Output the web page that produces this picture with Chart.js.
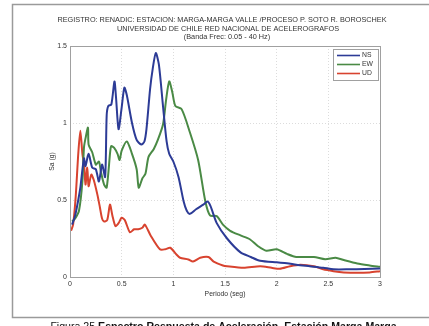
<!DOCTYPE html>
<html>
<head>
<meta charset="utf-8">
<script src="https://cdn.jsdelivr.net/npm/chart.js@4/dist/chart.umd.min.js"></script>
<style>
  html, body { margin: 0; padding: 0; background: #fff; }
  canvas { display: block; }
</style>
</head>
<body>
<canvas id="c" width="429" height="326"></canvas>
<script>
// Response spectra (Sa in g versus period in s) for the three components
const nsPeriod = [0.02,0.05,0.08,0.10,0.135,0.15,0.18,0.215,0.25,0.28,0.31,0.34,0.355,0.37,0.40,0.43,0.445,0.47,0.50,0.526,0.55,0.60,0.645,0.69,0.72,0.74,0.775,0.80,0.83,0.86,0.90,0.935,0.96,1.0,1.05,1.10,1.13,1.16,1.22,1.29,1.33,1.36,1.42,1.52,1.65,1.75,1.84,2.0,2.1,2.19,2.32,2.45,2.55,2.7,2.85,3.0];
const nsSa     = [0.34,0.40,0.50,0.58,0.77,0.72,0.80,0.71,0.70,0.62,0.73,0.65,1.05,1.11,1.12,1.27,1.17,0.96,1.10,1.23,1.18,1.00,0.89,0.86,0.88,0.96,1.22,1.35,1.455,1.38,1.11,0.88,0.80,0.75,0.65,0.49,0.43,0.41,0.44,0.47,0.49,0.46,0.35,0.25,0.16,0.13,0.105,0.095,0.09,0.08,0.07,0.06,0.05,0.05,0.052,0.055];

const ewPeriod = [0.02,0.05,0.087,0.12,0.135,0.15,0.174,0.18,0.215,0.25,0.28,0.30,0.33,0.355,0.39,0.40,0.426,0.46,0.48,0.50,0.55,0.60,0.645,0.665,0.70,0.73,0.76,0.81,0.85,0.90,0.93,0.96,0.99,1.02,1.08,1.16,1.24,1.31,1.355,1.42,1.48,1.55,1.65,1.74,1.82,1.90,2.0,2.1,2.19,2.36,2.47,2.57,2.65,2.78,2.9,3.0];
const ewSa     = [0.36,0.38,0.43,0.62,0.84,0.90,0.97,0.86,0.81,0.73,0.75,0.68,0.60,0.58,0.82,0.85,0.84,0.80,0.76,0.82,0.88,0.80,0.70,0.58,0.64,0.67,0.78,0.83,0.89,0.99,1.15,1.27,1.20,1.11,1.09,0.94,0.76,0.49,0.40,0.395,0.34,0.30,0.27,0.245,0.20,0.17,0.18,0.15,0.13,0.13,0.115,0.125,0.11,0.088,0.075,0.066];

const udPeriod = [0.01,0.03,0.055,0.08,0.10,0.12,0.136,0.15,0.167,0.18,0.206,0.23,0.265,0.29,0.31,0.33,0.36,0.387,0.41,0.44,0.47,0.50,0.53,0.58,0.62,0.66,0.70,0.725,0.78,0.87,0.92,0.97,1.03,1.065,1.145,1.19,1.26,1.34,1.39,1.48,1.52,1.68,1.84,1.95,2.03,2.13,2.23,2.36,2.45,2.55,2.65,2.78,2.9,3.0];
const udSa     = [0.30,0.34,0.52,0.80,0.95,0.80,0.73,0.60,0.71,0.59,0.665,0.63,0.535,0.45,0.38,0.36,0.37,0.47,0.40,0.33,0.35,0.385,0.37,0.29,0.31,0.31,0.32,0.34,0.27,0.18,0.18,0.19,0.146,0.125,0.114,0.10,0.125,0.13,0.10,0.075,0.07,0.06,0.07,0.06,0.053,0.07,0.08,0.07,0.05,0.038,0.03,0.027,0.03,0.038];

const seriesNames = ['NS', 'EW', 'UD'];
const xTicks = [0, 0.5, 1, 1.5, 2, 2.5, 3];
const yTicks = [0, 0.5, 1, 1.5];

const titleLines = [
  'REGISTRO: RENADIC: ESTACION: MARGA-MARGA VALLE /PROCESO P. SOTO R. BOROSCHEK',
  'UNIVERSIDAD DE CHILE RED NACIONAL DE ACELEROGRAFOS',
  '(Banda Frec: 0.05 - 40 Hz)'
];
const captionPlain = 'Figura 25 ';
const captionBold = 'Espectro Respuesta de Aceleración, Estación Marga Marga';

const FONT = '"Liberation Sans", Arial, sans-serif';
const colors = ['#2c3b96', '#4a8a45', '#d8432f'];

function pairs(xs, ys) { return xs.map((x, i) => ({ x: x, y: ys[i] })); }

const figurePlugin = {
  id: 'figure',
  beforeDraw(chart) {
    const ctx = chart.ctx;
    ctx.save();
    ctx.fillStyle = '#fff';
    ctx.fillRect(0, 0, chart.width, chart.height);
    ctx.restore();
  },
  afterDraw(chart) {
    const ctx = chart.ctx;
    const a = chart.chartArea;
    ctx.save();
    // outer figure frame
    ctx.strokeStyle = '#9a9a9a';
    ctx.lineWidth = 1.5;
    ctx.beginPath();
    ctx.moveTo(429, 4.5); ctx.lineTo(12.5, 4.5); ctx.lineTo(12.5, 317.5); ctx.lineTo(429, 317.5);
    ctx.stroke();

    // plot box
    ctx.strokeStyle = '#a0a0a0';
    ctx.lineWidth = 1;
    ctx.strokeRect(Math.round(a.left) + 0.5, Math.round(a.top) + 0.5,
                   Math.round(a.right - a.left), Math.round(a.bottom - a.top));

    // header lines
    ctx.fillStyle = '#333';
    ctx.textAlign = 'center';
    ctx.textBaseline = 'middle';
    ctx.font = '7.3px ' + FONT;
    ctx.fillText(titleLines[0], 222, 20);
    ctx.fillText(titleLines[1], 228, 28.5);
    ctx.fillText(titleLines[2], 227, 37);

    // legend
    const lx = 333, ly = 49, lw = 45, lh = 31;
    ctx.fillStyle = '#fff';
    ctx.fillRect(lx, ly, lw, lh);
    ctx.strokeStyle = '#a0a0a0';
    ctx.strokeRect(lx + 0.5, ly + 0.5, lw, lh);
    ctx.font = '6.8px ' + FONT;
    ctx.textAlign = 'left';
    chart.data.datasets.forEach((ds, i) => {
      const yy = ly + 6.5 + i * 9;
      ctx.strokeStyle = ds.borderColor;
      ctx.lineWidth = 1.6;
      ctx.beginPath(); ctx.moveTo(lx + 4, yy); ctx.lineTo(lx + 27, yy); ctx.stroke();
      ctx.fillStyle = '#333';
      ctx.fillText(ds.label, lx + 29, yy);
    });

    // caption
    ctx.fillStyle = '#111';
    ctx.textBaseline = 'alphabetic';
    ctx.font = '10.6px ' + FONT;
    const w1 = ctx.measureText(captionPlain).width;
    ctx.font = 'bold 10.6px ' + FONT;
    const w2 = ctx.measureText(captionBold).width;
    const x0 = 223.5 - (w1 + w2) / 2;
    ctx.font = '10.6px ' + FONT;
    ctx.fillText(captionPlain, x0, 329.5);
    ctx.font = 'bold 10.6px ' + FONT;
    ctx.fillText(captionBold, x0 + w1, 329.5);
    ctx.restore();
  }
};

new Chart(document.getElementById('c'), {
  type: 'line',
  data: {
    datasets: [
      { label: seriesNames[0], data: pairs(nsPeriod, nsSa), borderColor: colors[0] },
      { label: seriesNames[1], data: pairs(ewPeriod, ewSa), borderColor: colors[1] },
      { label: seriesNames[2], data: pairs(udPeriod, udSa), borderColor: colors[2] }
    ]
  },
  options: {
    responsive: false,
    animation: false,
    devicePixelRatio: 1,
    layout: { padding: { left: 0, right: 49, top: 46, bottom: 0 } },
    elements: {
      point: { radius: 0 },
      line: { borderWidth: 2, tension: 0.25, fill: false }
    },
    plugins: {
      legend: { display: false },
      title: { display: false },
      tooltip: { enabled: false }
    },
    scales: {
      x: {
        type: 'linear',
        min: 0, max: 3,
        afterBuildTicks(s) { s.ticks = xTicks.map(v => ({ value: v })); },
        afterFit(s) { s.height = 49; },
        ticks: {
          padding: 3,
          color: '#333',
          font: { family: FONT, size: 7 },
          maxRotation: 0,
          callback: v => String(v)
        },
        grid: { color: '#dcdcdc', drawTicks: false },
        border: { display: false, dash: [1, 2] },
        title: {
          display: true,
          text: 'Periodo (seg)',
          color: '#333',
          font: { family: FONT, size: 6.8 },
          padding: { top: 0, bottom: 28 }
        }
      },
      y: {
        type: 'linear',
        min: 0, max: 1.5,
        afterBuildTicks(s) { s.ticks = yTicks.map(v => ({ value: v })); },
        afterFit(s) { s.width = 70; },
        ticks: {
          padding: 3,
          color: '#333',
          font: { family: FONT, size: 7 },
          callback: v => String(v)
        },
        grid: { color: '#dcdcdc', drawTicks: false },
        border: { display: false, dash: [1, 2] },
        title: {
          display: true,
          text: 'Sa (g)',
          color: '#333',
          font: { family: FONT, size: 6.8 },
          padding: { top: 48, bottom: 0 }
        }
      }
    }
  },
  plugins: [figurePlugin]
});
</script>
</body>
</html>
